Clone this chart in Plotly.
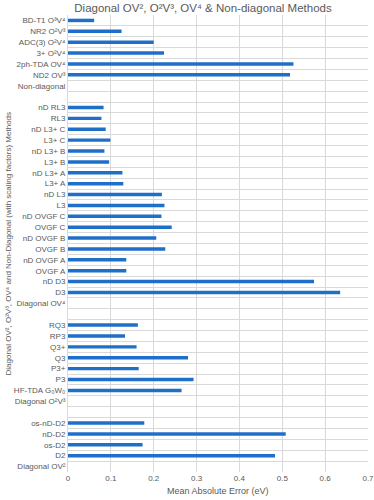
import plotly.graph_objects as go

categories = [
    "BD-T1 O³V⁴", "NR2 O²V³", "ADC(3) O²V⁴", "3+ O²V⁴", "2ph-TDA OV⁴", "ND2 OV³",
    "Non-diagonal", " ",
    "nD RL3", "RL3", "nD L3+ C", "L3+ C", "nD L3+ B", "L3+ B", "nD L3+ A", "L3+ A",
    "nD L3", "L3", "nD OVGF C", "OVGF C", "nD OVGF B", "OVGF B", "nD OVGF A", "OVGF A",
    "nD D3", "D3", "Diagonal OV⁴", "  ",
    "RQ3", "RP3", "Q3+", "Q3", "P3+", "P3", "HF-TDA G₀W₀", "Diagonal O²V³", "   ",
    "os-nD-D2", "nD-D2", "os-D2", "D2", "Diagonal OV²",
]
mae_values = [
    0.061, 0.125, 0.200, 0.224, 0.526, 0.518,
    None, None,
    0.083, 0.078, 0.088, 0.099, 0.085, 0.096, 0.127, 0.129,
    0.219, 0.225, 0.218, 0.242, 0.206, 0.227, 0.136, 0.136,
    0.574, 0.635, None, None,
    0.163, 0.133, 0.160, 0.280, 0.165, 0.293, 0.265, None, None,
    0.178, 0.508, 0.174, 0.483, None,
]
x_ticks = [0, 0.1, 0.2, 0.3, 0.4, 0.5, 0.6, 0.7]

FONT = "Liberation Sans, Arial, sans-serif"
GRAY = "#595959"
GRID = "#d9d9d9"

fig = go.Figure(go.Bar(
    x=mae_values, y=categories, orientation="h",
    marker=dict(color="#1f6fc8", line=dict(width=0)),
    width=0.32,
))

L, R, T, B = 68, 6, 15, 28
fig.update_layout(
    width=374, height=500,
    margin=dict(l=L, r=R, t=T, b=B, pad=0),
    paper_bgcolor="white", plot_bgcolor="white",
    font=dict(family=FONT, size=8, color=GRAY),
    showlegend=False,
    title=dict(text="Diagonal OV², O²V³, OV⁴ & Non-diagonal Methods",
               font=dict(size=11.5, color=GRAY, family=FONT),
               x=203/374, xanchor="center", xref="container",
               y=1 - 8/500, yanchor="middle", yref="container"),
    xaxis=dict(range=[0, 0.7], tickvals=x_ticks, ticktext=[str(v) for v in x_ticks],
               showgrid=True, gridcolor=GRID, gridwidth=1,
               zeroline=False, showline=False, ticks="", ticklen=0,
               ticklabeloverflow="allow",
               tickfont=dict(size=8, color=GRAY), automargin=False),
    yaxis=dict(type="category", categoryorder="array", categoryarray=categories,
               autorange="reversed", tickson="boundaries",
               showgrid=True, gridcolor=GRID, gridwidth=1,
               showline=True, linecolor=GRID, linewidth=1,
               zeroline=False, ticks="", ticklen=0,
               tickfont=dict(size=8, color=GRAY), automargin=False),
    bargap=0.68,
)

plot_w = 374 - L - R
plot_h = 500 - T - B
fig.add_annotation(text="Mean Absolute Error (eV)", showarrow=False,
                   xref="paper", yref="paper",
                   x=0.5, y=-(491 - (500 - B)) / plot_h, xanchor="center", yanchor="middle",
                   font=dict(size=9, color=GRAY, family=FONT))
fig.add_annotation(text="Diagonal OV², O²V³, OV⁴ and Non-Diagonal (with scaling factors) Methods",
                   showarrow=False, textangle=-90,
                   xref="paper", yref="paper",
                   x=-(L - 8) / plot_w, y=0.5, xanchor="center", yanchor="middle",
                   font=dict(size=8, color=GRAY, family=FONT))

fig.write_html("out.html", config={"displayModeBar": False},
               post_script="document.body.style.margin='0px';")
